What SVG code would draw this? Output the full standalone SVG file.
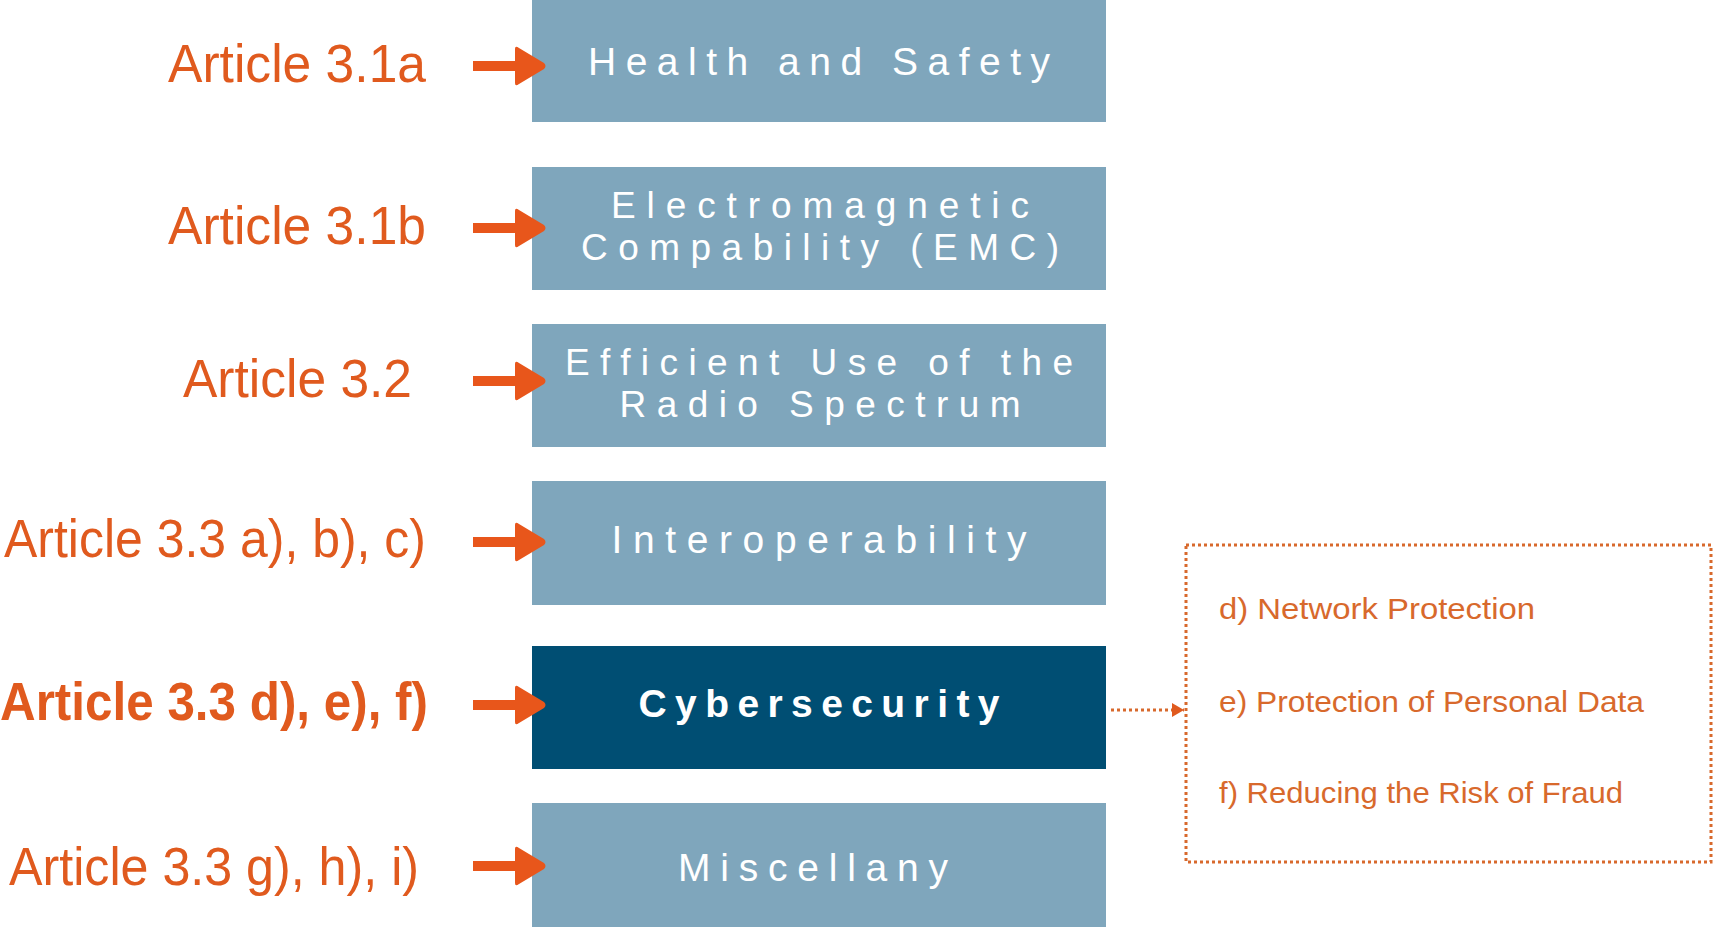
<svg xmlns="http://www.w3.org/2000/svg" width="1714" height="927" viewBox="0 0 1714 927">
<defs>
<style>
.lbl{font-family:"Liberation Sans",Arial,sans-serif;font-size:54px;fill:#E05A1E;}
.lblb{font-family:"Liberation Sans",Arial,sans-serif;font-size:54px;font-weight:bold;fill:#E05A1E;}
.box{fill:#7FA6BC;}
.boxd{fill:#004E73;}
.bt{font-family:"Liberation Sans",Arial,sans-serif;font-size:39px;fill:#FFFFFF;text-anchor:middle;}
.bt2{font-family:"Liberation Sans",Arial,sans-serif;font-size:37px;fill:#FFFFFF;text-anchor:middle;}
.btb{font-family:"Liberation Sans",Arial,sans-serif;font-size:39px;font-weight:bold;fill:#FFFFFF;text-anchor:middle;}
.sub{font-family:"Liberation Sans",Arial,sans-serif;font-size:30px;fill:#D8692C;}
.arr{fill:#E8561B;}
.dot{fill:none;stroke:#D8692C;stroke-width:3;stroke-dasharray:3 3;}
</style>
<path id="arrow" d="M0,-5 L42,-5 L42,-17 Q42,-21 46,-18 L71,-3 Q74,0 71,3 L46,18 Q42,21 42,17 L42,5 L0,5 Z"/>
<marker id="tri" markerWidth="12" markerHeight="14" refX="12" refY="7" orient="auto" markerUnits="userSpaceOnUse">
<path d="M0,0 L12,7 L0,14 Z" fill="#E05A1E"/>
</marker>
</defs>
<rect width="1714" height="927" fill="#FFFFFF"/>

<g id="node-health">
<rect class="box" x="532" y="0" width="574" height="122"/>
<text class="bt" x="819" y="75" textLength="462" lengthAdjust="spacing">Health and Safety</text>
</g>
<g id="node-emc">
<rect class="box" x="532" y="167" width="574" height="123"/>
<text class="bt2" x="820" y="218" textLength="418" lengthAdjust="spacing">Electromagnetic</text>
<text class="bt2" x="820" y="260" textLength="478" lengthAdjust="spacing">Compability (EMC)</text>
</g>
<g id="node-radio">
<rect class="box" x="532" y="324" width="574" height="123"/>
<text class="bt2" x="819" y="375" textLength="508" lengthAdjust="spacing">Efficient Use of the</text>
<text class="bt2" x="820" y="417" textLength="401" lengthAdjust="spacing">Radio Spectrum</text>
</g>
<g id="node-interop">
<rect class="box" x="532" y="481" width="574" height="124"/>
<text class="bt" x="819" y="553" textLength="415" lengthAdjust="spacing">Interoperability</text>
</g>
<g id="node-cyber">
<rect class="boxd" x="532" y="646" width="574" height="123"/>
<text class="btb" x="819" y="717" textLength="361" lengthAdjust="spacing">Cybersecurity</text>
</g>
<g id="node-misc">
<rect class="box" x="532" y="803" width="574" height="124"/>
<text class="bt" x="813" y="881" textLength="270" lengthAdjust="spacing">Miscellany</text>
</g>

<g id="labels">
<text class="lbl" x="168" y="82" textLength="258" lengthAdjust="spacingAndGlyphs">Article 3.1a</text>
<text class="lbl" x="168" y="244" textLength="258" lengthAdjust="spacingAndGlyphs">Article 3.1b</text>
<text class="lbl" x="183" y="397" textLength="229" lengthAdjust="spacingAndGlyphs">Article 3.2</text>
<text class="lbl" x="4" y="557" textLength="422" lengthAdjust="spacingAndGlyphs">Article 3.3 a), b), c)</text>
<text class="lblb" x="0" y="720" textLength="428" lengthAdjust="spacingAndGlyphs">Article 3.3 d), e), f)</text>
<text class="lbl" x="9" y="885" textLength="410" lengthAdjust="spacingAndGlyphs">Article 3.3 g), h), i)</text>
</g>

<g id="node-subbox">
<rect class="dot" x="1186" y="545" width="525" height="317"/>
<text class="sub" x="1219" y="619" textLength="316" lengthAdjust="spacingAndGlyphs">d) Network Protection</text>
<text class="sub" x="1219" y="712" textLength="425" lengthAdjust="spacingAndGlyphs">e) Protection of Personal Data</text>
<text class="sub" x="1219" y="803" textLength="404" lengthAdjust="spacingAndGlyphs">f) Reducing the Risk of Fraud</text>
</g>

<g id="connectors">
<use href="#arrow" class="arr" x="473" y="66"/>
<use href="#arrow" class="arr" x="473" y="228"/>
<use href="#arrow" class="arr" x="473" y="381"/>
<use href="#arrow" class="arr" x="473" y="542"/>
<use href="#arrow" class="arr" x="473" y="705"/>
<use href="#arrow" class="arr" x="473" y="866"/>
<line class="dot" x1="1111" y1="710" x2="1184" y2="710" marker-end="url(#tri)"/>
</g>
</svg>
